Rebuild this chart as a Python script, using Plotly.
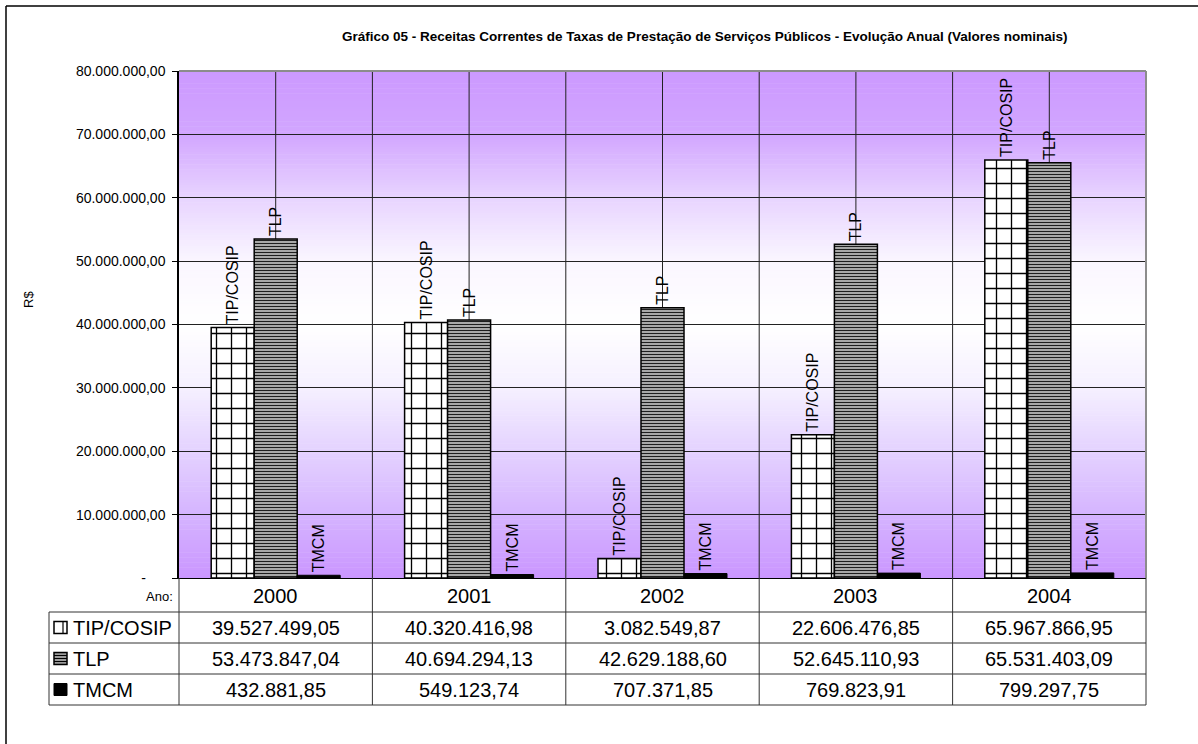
import plotly.graph_objects as go

# ---- data -------------------------------------------------------------
years = ["2000", "2001", "2002", "2003", "2004"]
series_names = ["TIP/COSIP", "TLP", "TMCM"]
tip_cosip = [39527499.05, 40320416.98, 3082549.87, 22606476.85, 65967866.95]
tlp = [53473847.04, 40694294.13, 42629188.60, 52645110.93, 65531403.09]
tmcm = [432881.85, 549123.74, 707371.85, 769823.91, 799297.75]
y_ticks = [0, 10e6, 20e6, 30e6, 40e6, 50e6, 60e6, 70e6, 80e6]

title_text = ("Gráfico 05 - Receitas Correntes de Taxas de Prestação de "
              "Serviços Públicos - Evolução Anual (Valores nominais)")

# ---- layout geometry (pixels) ----------------------------------------
W, H = 1198, 744
PL, PR, PT, PB = 179, 1146, 71, 578          # plot area edges
FONT = "Arial, 'Liberation Sans', sans-serif"


def px(x):
    return (x - PL) / (PR - PL)


def py(y):
    return (PB - y) / (PB - PT)


def fmt_br(v):
    s = f"{v:,.2f}"
    return s.replace(",", "X").replace(".", ",").replace("X", ".")


def tick_label(v):
    if v == 0:
        return "-" + "\u00a0" * 5
    return fmt_br(v)


fig = go.Figure()

bar_styles = {
    "TIP/COSIP": dict(color="white",
                      pattern=dict(shape="+", fgcolor="black", bgcolor="white",
                                   size=15, solidity=0.17, fillmode="replace"),
                      line=dict(color="black", width=1.5)),
    "TLP": dict(color="#cccccc",
                pattern=dict(shape="-", fgcolor="#1e1e1e", bgcolor="#d4d4d4",
                             size=3, solidity=0.5, fillmode="replace"),
                line=dict(color="black", width=1.5)),
    "TMCM": dict(color="black", line=dict(color="black", width=1)),
}

for name, vals in zip(series_names, [tip_cosip, tlp, tmcm]):
    fig.add_trace(go.Bar(
        x=years, y=vals, name=name,
        marker=bar_styles[name],
        text=[name] * len(years),
        textposition="outside", textangle=-90,
        textfont=dict(family=FONT, size=16, color="black"),
        constraintext="none", cliponaxis=False,
        showlegend=False, hoverinfo="x+y+name",
    ))

shapes = []

# vertical background gradient (purple at the edges, white in the middle)
stops = [
    (0.000, (202, 150, 255)),
    (0.125, (213, 180, 255)),
    (0.250, (228, 210, 255)),
    (0.375, (245, 240, 255)),
    (0.500, (255, 255, 255)),
    (0.625, (250, 246, 255)),
    (0.750, (232, 212, 255)),
    (0.875, (210, 166, 255)),
    (1.000, (204, 153, 255)),
]


def grad(t):
    for (t0, c0), (t1, c1) in zip(stops[:-1], stops[1:]):
        if t0 <= t <= t1:
            f = (t - t0) / (t1 - t0)
            return "rgb(%d,%d,%d)" % tuple(round(a + (b - a) * f) for a, b in zip(c0, c1))
    return "rgb(%d,%d,%d)" % stops[-1][1]


NB = 200
for i in range(NB):
    shapes.append(dict(type="rect", xref="x domain", yref="y domain",
                       x0=0, x1=1, y0=i / NB, y1=(i + 1) / NB + 0.001,
                       fillcolor=grad((i + 0.5) / NB), line=dict(width=0),
                       layer="below"))

# vertical grid lines at category centres and boundaries
n = len(years)
for k in range(1, 2 * n):
    shapes.append(dict(type="line", xref="x domain", yref="y domain",
                       x0=k / (2 * n), x1=k / (2 * n), y0=0, y1=1,
                       line=dict(color="#222", width=1), layer="below"))

# grey frame on top and right of the plot area
shapes.append(dict(type="line", xref="paper", yref="paper", x0=0, x1=1, y0=1, y1=1,
                   line=dict(color="#8c8c8c", width=2)))
shapes.append(dict(type="line", xref="paper", yref="paper", x0=1, x1=1, y0=0, y1=1,
                   line=dict(color="#8c8c8c", width=2)))

# outer chart border (left and top)
shapes.append(dict(type="line", xref="paper", yref="paper",
                   x0=px(6), x1=px(6), y0=py(6), y1=py(H + 5),
                   line=dict(color="black", width=1.5)))
shapes.append(dict(type="line", xref="paper", yref="paper",
                   x0=px(6), x1=px(W + 5), y0=py(6), y1=py(6),
                   line=dict(color="black", width=1.5)))

# data table grid
TBL_L = 49
ROW_Y = [578, 612, 643, 674, 705]
TL = "#333"
for k in range(n + 1):
    shapes.append(dict(type="line", xref="paper", yref="paper",
                       x0=k / n, x1=k / n, y0=py(ROW_Y[0]), y1=py(ROW_Y[-1]),
                       line=dict(color=TL, width=1)))
for yy in ROW_Y[1:]:
    shapes.append(dict(type="line", xref="paper", yref="paper",
                       x0=px(TBL_L), x1=1, y0=py(yy), y1=py(yy),
                       line=dict(color=TL, width=1)))
shapes.append(dict(type="line", xref="paper", yref="paper",
                   x0=px(TBL_L), x1=px(TBL_L), y0=py(ROW_Y[1]), y1=py(ROW_Y[-1]),
                   line=dict(color=TL, width=1)))

# legend keys inside the table
IX0, IX1 = 54, 67
row_mid = [(a + b) / 2 for a, b in zip(ROW_Y[1:-1], ROW_Y[2:])]
c0 = row_mid[0]
shapes.append(dict(type="rect", xref="paper", yref="paper",
                   x0=px(IX0), x1=px(IX1), y0=py(c0 + 6), y1=py(c0 - 6),
                   fillcolor="white", line=dict(color="black", width=1.5)))
shapes.append(dict(type="line", xref="paper", yref="paper",
                   x0=px(63), x1=px(63), y0=py(c0 + 6), y1=py(c0 - 6),
                   line=dict(color="black", width=1.2)))
c1 = row_mid[1]
shapes.append(dict(type="rect", xref="paper", yref="paper",
                   x0=px(IX0), x1=px(IX1), y0=py(c1 + 6), y1=py(c1 - 6),
                   fillcolor="#9a9a9a", line=dict(color="black", width=1.5)))
for dy in (-3, 0, 3):
    shapes.append(dict(type="line", xref="paper", yref="paper",
                       x0=px(IX0), x1=px(IX1), y0=py(c1 + dy), y1=py(c1 + dy),
                       line=dict(color="black", width=1)))
c2 = row_mid[2]
shapes.append(dict(type="rect", xref="paper", yref="paper",
                   x0=px(IX0), x1=px(IX1), y0=py(c2 + 6), y1=py(c2 - 6),
                   fillcolor="black", line=dict(color="black", width=1)))

annotations = []
TFS = 20
# header row ("Ano:" and the years, placed on the category axis)
annotations.append(dict(text="Ano:", xref="paper", yref="paper",
                        x=px(175), y=py(596), xanchor="right", yanchor="middle",
                        showarrow=False, font=dict(family=FONT, size=13, color="black")))
for i, yr in enumerate(years):
    annotations.append(dict(text=yr, xref="x", yref="paper", x=i, y=py(596),
                            xanchor="center", yanchor="middle", showarrow=False,
                            font=dict(family=FONT, size=TFS, color="black")))
# value rows
for name, vals, yc in zip(series_names, [tip_cosip, tlp, tmcm], row_mid):
    annotations.append(dict(text=name, xref="paper", yref="paper",
                            x=px(71), y=py(yc), xanchor="left", yanchor="middle",
                            showarrow=False, font=dict(family=FONT, size=TFS, color="black")))
    for i, v in enumerate(vals):
        annotations.append(dict(text=fmt_br(v), xref="x", yref="paper", x=i, y=py(yc),
                                xanchor="center", yanchor="middle", showarrow=False,
                                font=dict(family=FONT, size=TFS, color="black")))

# chart title and axis title
annotations.append(dict(text="<b>" + title_text + "</b>", xref="paper", yref="paper",
                        x=px(705), y=py(36), xanchor="center", yanchor="middle",
                        showarrow=False, font=dict(family=FONT, size=13.5, color="black")))
annotations.append(dict(text="R$", xref="paper", yref="paper", x=px(28), y=py(300),
                        xanchor="center", yanchor="middle", textangle=-90,
                        showarrow=False, font=dict(family=FONT, size=13, color="black")))

fig.update_layout(
    width=W, height=H,
    margin=dict(l=PL, r=W - PR, t=PT, b=H - PB, pad=0),
    paper_bgcolor="white", plot_bgcolor="white",
    barmode="group", bargap=0.333, bargroupgap=0,
    font=dict(family=FONT, color="black"),
    shapes=shapes, annotations=annotations,
    xaxis=dict(type="category", range=[-0.5, n - 0.5], showticklabels=False,
               ticks="", showgrid=False, showline=True, linecolor="black",
               linewidth=1, zeroline=False, fixedrange=True),
    yaxis=dict(range=[0, 80e6], tickvals=y_ticks,
               ticktext=[tick_label(v) for v in y_ticks],
               tickfont=dict(family=FONT, size=14, color="black"),
               ticks="outside", ticklen=5, tickcolor="black", tickwidth=1,
               ticklabelstandoff=4,
               showgrid=True, gridcolor="#222", gridwidth=1,
               showline=True, linecolor="black", linewidth=1.5,
               zeroline=False, fixedrange=True),
)

fig.write_html("out.html")
